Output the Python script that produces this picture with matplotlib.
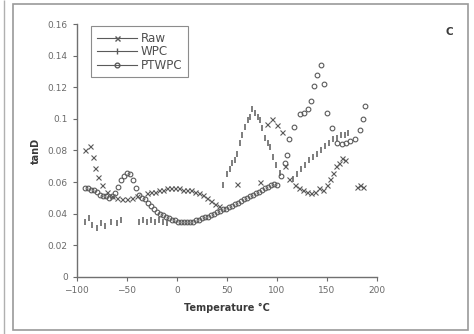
import matplotlib.pyplot as plt
from matplotlib.patches import Rectangle

# data (temperature in degC, tanD)
raw_t = [-92, -87, -84, -82, -79, -75, -70, -65, -60, -55, -50, -45, -40,
         -30, -26, -22, -18, -14, -10, -6, -2, 2, 6, 10, 14, 18, 22, 26,
         30, 34, 38, 42, 60, 83, 90, 95, 100, 105, 108, 112, 118, 122,
         126, 130, 134, 138, 142, 146, 150, 153, 156, 159, 162, 165, 168,
         180, 183, 186]
raw_v = [0.080, 0.083, 0.076, 0.069, 0.063, 0.058, 0.054, 0.051, 0.050,
         0.049, 0.049, 0.050, 0.051, 0.053, 0.054, 0.054, 0.055, 0.055,
         0.056, 0.056, 0.056, 0.056, 0.055, 0.055, 0.055, 0.054, 0.053,
         0.052, 0.050, 0.048, 0.046, 0.045, 0.059, 0.060, 0.097, 0.100,
         0.096, 0.092, 0.070, 0.062, 0.058, 0.056, 0.055, 0.054, 0.053,
         0.054, 0.056, 0.055, 0.058, 0.062, 0.066, 0.070, 0.072, 0.075,
         0.074, 0.057, 0.058, 0.057]

wpc_t = [-92, -88, -85, -80, -76, -72, -66, -60, -56, -38, -34, -30, -26,
         -22, -18, -14, -10, 46, 50, 53, 55, 58, 60, 63, 65, 68, 71, 73,
         75, 78, 81, 83, 85, 88, 91, 93, 96, 99, 103, 116, 120, 124, 128,
         132, 136, 140, 144, 148, 152, 156, 160, 164, 168, 171]
wpc_v = [0.035, 0.037, 0.033, 0.031, 0.034, 0.032, 0.035, 0.034, 0.036,
         0.035, 0.036, 0.035, 0.036, 0.035, 0.036, 0.035, 0.034, 0.058,
         0.065, 0.068, 0.072, 0.074, 0.078, 0.085, 0.090, 0.095, 0.099,
         0.101, 0.106, 0.104, 0.101, 0.099, 0.094, 0.088, 0.085, 0.082,
         0.076, 0.071, 0.066, 0.062, 0.065, 0.068, 0.071, 0.074, 0.076,
         0.078, 0.080, 0.083, 0.085, 0.087, 0.088, 0.090, 0.090, 0.091]

ptwpc_t = [-92, -89, -86, -83, -80, -77, -74, -71, -68, -65, -62, -59, -56,
           -53, -50, -47, -44, -41, -38, -35, -32, -29, -26, -23, -20, -17,
           -14, -11, -8, -5, -2, 1, 4, 7, 10, 13, 16, 19, 22, 25, 28, 31,
           34, 37, 40, 43, 46, 49, 52, 55, 58, 61, 64, 67, 70, 73, 76, 79,
           82, 85, 88, 91, 94, 97, 100, 104, 108, 110, 112, 117, 123, 127,
           131, 134, 137, 140, 144, 147, 150, 155, 160, 165, 169, 173, 178,
           183, 186, 188]
ptwpc_v = [0.056, 0.056, 0.055, 0.055, 0.054, 0.052, 0.051, 0.051, 0.050,
           0.051, 0.053, 0.057, 0.061, 0.064, 0.066, 0.065, 0.061, 0.056,
           0.052, 0.050, 0.049, 0.047, 0.045, 0.043, 0.041, 0.040, 0.039,
           0.038, 0.037, 0.036, 0.036, 0.035, 0.035, 0.035, 0.035, 0.035,
           0.035, 0.036, 0.036, 0.037, 0.038, 0.038, 0.039, 0.040, 0.041,
           0.042, 0.043, 0.043, 0.044, 0.045, 0.046, 0.047, 0.048, 0.049,
           0.050, 0.051, 0.052, 0.053, 0.054, 0.055, 0.056, 0.057, 0.058,
           0.059, 0.058, 0.064, 0.072, 0.077, 0.087, 0.095, 0.103, 0.104,
           0.106, 0.111, 0.121, 0.128, 0.134, 0.122, 0.104, 0.094, 0.085,
           0.084, 0.085, 0.086, 0.087, 0.093, 0.100, 0.108]

x_ticks = [-100, -50, 0, 50, 100, 150, 200]
y_ticks = [0, 0.02, 0.04, 0.06, 0.08, 0.1, 0.12, 0.14, 0.16]
y_labels = ['0', '0.02', '0.04', '0.06', '0.08', '0.1', '0.12', '0.14', '0.16']

fig = plt.figure(figsize=(4.74, 3.34), dpi=100)
ax = fig.add_axes([0.162, 0.171, 0.633, 0.757])

# scanned panel border
fig.patches.append(Rectangle((13 / 474, 4 / 334), 455 / 474, 326 / 334,
                             transform=fig.transFigure, fill=False,
                             edgecolor='#9a9a9a', lw=1.2))
fig.patches.append(Rectangle((4 / 474, 0), 0.001, 1, transform=fig.transFigure,
                             fill=False, edgecolor='#b0b0b0', lw=1.0))

mk = '#5a5a5a'
ax.plot(raw_t, raw_v, ls='none', marker='x', ms=3.6, mew=0.8, color=mk, label='Raw')
ax.plot(wpc_t, wpc_v, ls='none', marker='|', ms=4.5, mew=1.1, color=mk, label='WPC')
ax.plot(ptwpc_t, ptwpc_v, ls='none', marker='o', ms=3.4, mew=0.8, mfc='none',
        color=mk, label='PTWPC')

ax.set_xlim(-100, 200)
ax.set_ylim(0, 0.16)
ax.set_xticks(x_ticks)
ax.set_yticks(y_ticks)
ax.set_yticklabels(y_labels)
ax.tick_params(labelsize=6.5, colors='#6a6a6a', length=3, width=0.8)
ax.spines['top'].set_visible(False)
ax.spines['right'].set_visible(False)
for s in ('left', 'bottom'):
    ax.spines[s].set_color('#707070')
    ax.spines[s].set_linewidth(1.0)

ax.set_xlabel('Temperature °C', fontsize=7, fontweight='bold', color='#3a3a3a', labelpad=6)
ax.set_ylabel('tanD', fontsize=7, fontweight='bold', color='#3a3a3a', labelpad=5)

# legend drawn with line + marker like the original
h1, = ax.plot([], [], ls='-', lw=0.8, marker='x', ms=3.6, color=mk)
h2, = ax.plot([], [], ls='-', lw=0.8, marker='|', ms=4.5, color=mk)
h3, = ax.plot([], [], ls='-', lw=0.8, marker='o', ms=3.4, mfc='none', color=mk)
leg = ax.legend([h1, h2, h3], ['Raw', 'WPC', 'PTWPC'], loc='upper left',
                bbox_to_anchor=(0.04, 1.0), fontsize=8.6, frameon=True,
                fancybox=False, handlelength=3.4, borderpad=0.45,
                labelspacing=0.05, handletextpad=0.3, labelcolor='#505050',
                borderaxespad=0.2)
leg.get_frame().set_edgecolor('#707070')
leg.get_frame().set_linewidth(0.8)

fig.text(449 / 474, 1 - 32 / 334, 'C', fontsize=7.5, fontweight='bold',
         color='#3a3a3a', ha='center', va='center')

fig.savefig('out.png', dpi=100)
